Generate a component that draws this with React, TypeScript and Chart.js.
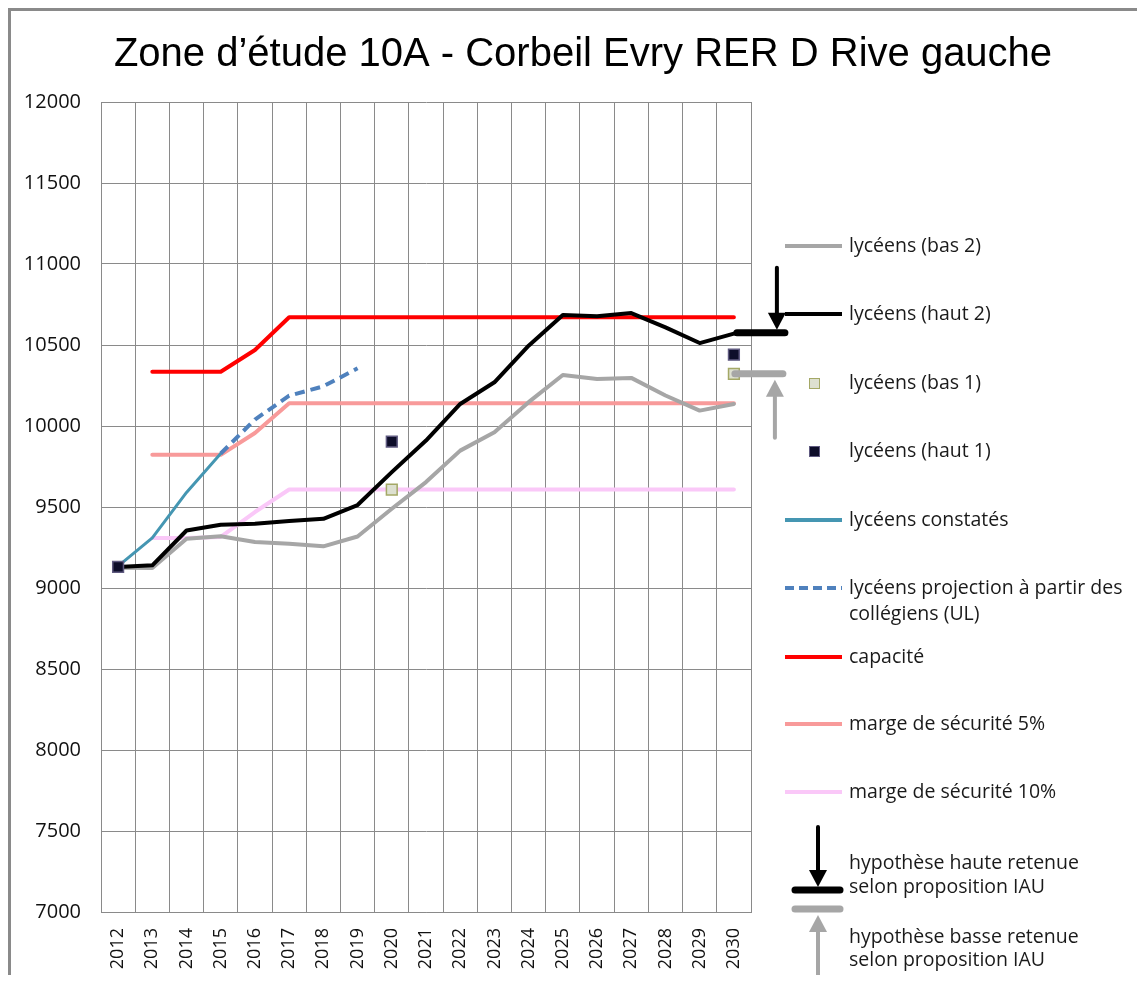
import React, { useEffect, useRef } from 'react';
import { Chart, registerables } from 'chart.js';
Chart.register(...registerables);

const TITLE = 'Zone d\u2019étude 10A - Corbeil Evry RER D Rive gauche';
const YEARS = ['2012','2013','2014','2015','2016','2017','2018','2019','2020','2021','2022','2023','2024','2025','2026','2027','2028','2029','2030'];
const BAS_2 = [9125, 9123, 9304, 9320, 9284, 9273, 9257, 9318, 9489, 9654, 9848, 9962, 10147, 10315, 10290, 10297, 10188, 10095, 10136];
const HAUT_2 = [9130, 9140, 9355, 9390, 9396, 9413, 9427, 9512, 9715, 9910, 10136, 10270, 10496, 10685, 10677, 10697, 10609, 10512, 10570];
const BAS_1 = [null, null, null, null, null, null, null, null, 9608, null, null, null, null, null, null, null, null, null, 10322];
const HAUT_1 = [9130, null, null, null, null, null, null, null, 9904, null, null, null, null, null, null, null, null, null, 10440];
const CONSTATES = [9135, 9310, 9590, 9830, null, null, null, null, null, null, null, null, null, null, null, null, null, null, null];
const PROJECTION = [null, null, null, 9830, 10040, 10187, 10245, 10356, null, null, null, null, null, null, null, null, null, null, null];
const CAPACITE = [null, 10335, 10335, 10335, 10469, 10671, 10671, 10671, 10671, 10671, 10671, 10671, 10671, 10671, 10671, 10671, 10671, 10671, 10671];
const MARGE_5 = [null, 9822, 9822, 9822, 9957, 10140, 10140, 10140, 10140, 10140, 10140, 10140, 10140, 10140, 10140, 10140, 10140, 10140, 10140];
const MARGE_10 = [null, 9308, 9308, 9315, 9469, 9608, 9608, 9608, 9608, 9608, 9608, 9608, 9608, 9608, 9608, 9608, 9608, 9608, 9608];
const HYPOTHESE_HAUTE = 10575;
const HYPOTHESE_BASSE = 10322;
const Y_MIN = 7000;
const Y_MAX = 12000;
const Y_STEP = 500;

const C_GRAY = '#a6a6a6';
const C_BLACK = '#000000';
const C_RED = '#ff0000';
const C_SALMON = '#f89a9a';
const C_PINK = '#fac8f8';
const C_TEAL = '#4596b2';
const C_BLUE = '#4f81bd';
const FONT = '"Open Sans", sans-serif';

type LegendItem = { kind: string; color?: string; fill?: string; border?: string; lines: string[]; y: number };
const LEGEND: LegendItem[] = [
  { kind: 'line', color: C_GRAY, lines: ['lycéens (bas 2)'], y: 238 },
  { kind: 'line', color: C_BLACK, lines: ['lycéens (haut 2)'], y: 306 },
  { kind: 'rect', fill: '#dde0d0', border: '#a4a866', lines: ['lycéens (bas 1)'], y: 375 },
  { kind: 'rect', fill: '#0e0e2a', border: '#5f5a80', lines: ['lycéens (haut 1)'], y: 443 },
  { kind: 'line', color: C_TEAL, lines: ['lycéens constatés'], y: 512 },
  { kind: 'dash', color: C_BLUE, lines: ['lycéens projection à partir des', 'collégiens (UL)'], y: 580 },
  { kind: 'line', color: C_RED, lines: ['capacité'], y: 649 },
  { kind: 'line', color: C_SALMON, lines: ['marge de sécurité 5%'], y: 716 },
  { kind: 'line', color: C_PINK, lines: ['marge de sécurité 10%'], y: 784 },
];

function arrow(ctx: CanvasRenderingContext2D, x: number, tail: number, tip: number, color: string, lw: number) {
  const dir = tip > tail ? 1 : -1;
  const headLen = 17;
  ctx.save();
  ctx.strokeStyle = color;
  ctx.fillStyle = color;
  ctx.lineWidth = lw;
  ctx.lineCap = 'round';
  ctx.beginPath();
  ctx.moveTo(x, tail);
  ctx.lineTo(x, tip - dir * headLen);
  ctx.stroke();
  ctx.beginPath();
  ctx.moveTo(x - 9, tip - dir * headLen);
  ctx.lineTo(x + 9, tip - dir * headLen);
  ctx.lineTo(x, tip);
  ctx.closePath();
  ctx.fill();
  ctx.restore();
}

function bar(ctx: CanvasRenderingContext2D, x1: number, x2: number, y: number, color: string) {
  ctx.save();
  ctx.strokeStyle = color;
  ctx.lineWidth = 7;
  ctx.lineCap = 'round';
  ctx.beginPath();
  ctx.moveTo(x1, y);
  ctx.lineTo(x2, y);
  ctx.stroke();
  ctx.restore();
}

const decorPlugin = {
  id: 'decor',
  afterDatasetsDraw(chart: any) {
    const ctx: CanvasRenderingContext2D = chart.ctx;
    const xs = chart.scales.x;
    const ys = chart.scales.y;
    const xLast = xs.getPixelForValue(YEARS.length - 1);
    const yH = ys.getPixelForValue(HYPOTHESE_HAUTE);
    const yB = ys.getPixelForValue(HYPOTHESE_BASSE);
    bar(ctx, xLast + 3, xLast + 51, yH, C_BLACK);
    arrow(ctx, xLast + 43, yH - 65, yH - 3, C_BLACK, 4);
    bar(ctx, xLast + 1, xLast + 49, yB, C_GRAY);
    arrow(ctx, xLast + 41, yB + 64, yB + 6, C_GRAY, 4);
  },
  afterDraw(chart: any) {
    const ctx: CanvasRenderingContext2D = chart.ctx;
    const area = chart.chartArea;
    ctx.save();
    ctx.fillStyle = '#000';
    ctx.font = '40px "Liberation Sans", Arial, sans-serif';
    ctx.textAlign = 'center';
    ctx.textBaseline = 'middle';
    ctx.fillText(TITLE, 575, 47);

    const lx1 = area.right + 34;
    const lx2 = area.right + 91;
    const tx = area.right + 98;
    ctx.font = '19.5px ' + FONT;
    ctx.textAlign = 'left';
    ctx.textBaseline = 'middle';
    for (const it of LEGEND) {
      if (it.kind === 'line' || it.kind === 'dash') {
        ctx.save();
        ctx.strokeStyle = it.color!;
        ctx.lineWidth = 4;
        if (it.kind === 'dash') ctx.setLineDash([9, 5]);
        ctx.beginPath();
        ctx.moveTo(lx1, it.y);
        ctx.lineTo(lx2, it.y);
        ctx.stroke();
        ctx.restore();
      } else {
        ctx.fillStyle = it.fill!;
        ctx.fillRect(lx1 + 24, it.y - 5, 11, 11);
        ctx.strokeStyle = it.border!;
        ctx.lineWidth = 1;
        ctx.strokeRect(lx1 + 24.5, it.y - 4.5, 10, 10);
      }
      ctx.fillStyle = '#1a1a1a';
      it.lines.forEach((t, i) => ctx.fillText(t, tx, it.y + i * 26));
    }
    const ax = area.right + 67;
    arrow(ctx, ax, 819, 879, C_BLACK, 4);
    bar(ctx, area.right + 44, area.right + 89, 882, C_BLACK);
    bar(ctx, area.right + 44, area.right + 89, 901, C_GRAY);
    arrow(ctx, ax, 967, 907, C_GRAY, 4);
    ctx.fillStyle = '#1a1a1a';
    ctx.fillText('hypothèse haute retenue', tx, 855);
    ctx.fillText('selon proposition IAU', tx, 879);
    ctx.fillText('hypothèse basse retenue', tx, 929);
    ctx.fillText('selon proposition IAU', tx, 952);
    ctx.restore();
  },
};

function lineDs(label: string, data: (number | null)[], color: string, width: number, extra: any = {}) {
  return {
    label,
    data,
    borderColor: color,
    backgroundColor: color,
    borderWidth: width,
    pointRadius: 0,
    pointHoverRadius: 0,
    tension: 0,
    fill: false,
    spanGaps: false,
    borderJoinStyle: 'round',
    borderCapStyle: 'round',
    ...extra,
  };
}

export default function App() {
  const ref = useRef<HTMLCanvasElement | null>(null);
  useEffect(() => {
    if (!ref.current) return;
    const chart = new Chart(ref.current, {
      type: 'line',
      data: {
        labels: YEARS,
        datasets: [
          {
            label: 'lycéens (haut 1)', data: HAUT_1, showLine: false, pointStyle: 'rect',
            pointRadius: 7.6, pointBackgroundColor: '#0e0e2a', pointBorderColor: '#5f5a80', pointBorderWidth: 1.5,
            borderColor: '#0e0e2a', backgroundColor: '#0e0e2a',
          },
          {
            label: 'lycéens (bas 1)', data: BAS_1, showLine: false, pointStyle: 'rect',
            pointRadius: 7.6, pointBackgroundColor: '#dde0d0', pointBorderColor: '#a4a866', pointBorderWidth: 1.5,
            borderColor: '#dde0d0', backgroundColor: '#dde0d0',
          },
          lineDs('lycéens (haut 2)', HAUT_2, C_BLACK, 4),
          lineDs('lycéens (bas 2)', BAS_2, C_GRAY, 4),
          lineDs('lycéens projection à partir des collégiens (UL)', PROJECTION, C_BLUE, 4, { borderDash: [10, 6], borderCapStyle: 'butt' }),
          lineDs('lycéens constatés', CONSTATES, C_TEAL, 3),
          lineDs('capacité', CAPACITE, C_RED, 4),
          lineDs('marge de sécurité 5%', MARGE_5, C_SALMON, 4),
          lineDs('marge de sécurité 10%', MARGE_10, C_PINK, 4),
        ] as any,
      },
      options: {
        responsive: false,
        animation: false,
        events: [],
        layout: { padding: { top: 94, right: 394, left: 0, bottom: 0 } },
        plugins: { legend: { display: false }, tooltip: { enabled: false }, title: { display: false } },
        scales: {
          x: {
            offset: true,
            grid: { offset: true, color: '#8a8a8a', lineWidth: 1, drawTicks: false },
            border: { color: '#8a8a8a' },
            ticks: { autoSkip: false, minRotation: 90, maxRotation: 90, padding: 16, color: '#111', font: { family: FONT, size: 18 } },
            afterFit: (s: any) => { s.height = 63; },
          },
          y: {
            min: Y_MIN,
            max: Y_MAX,
            grid: { color: '#8a8a8a', lineWidth: 1, drawTicks: false },
            border: { color: '#8a8a8a' },
            ticks: { stepSize: Y_STEP, padding: 20, color: '#111', font: { family: FONT, size: 20 }, callback: (v: any) => String(v) },
            afterFit: (s: any) => { s.width = 93; },
          },
        },
      },
      plugins: [decorPlugin],
    });
    return () => chart.destroy();
  }, []);
  return (
    <div style={{ position: 'relative', width: 1137, height: 967, overflow: 'hidden' }}>
      <div style={{ position: 'absolute', left: 0, top: 0, width: 1137, height: 967, borderTop: '3px solid #8a8a8a', borderLeft: '3px solid #8a8a8a', boxSizing: 'border-box', pointerEvents: 'none' }} />
      <canvas ref={ref} width={1137} height={967} style={{ display: 'block', width: 1137, height: 967 }} />
    </div>
  );
}
